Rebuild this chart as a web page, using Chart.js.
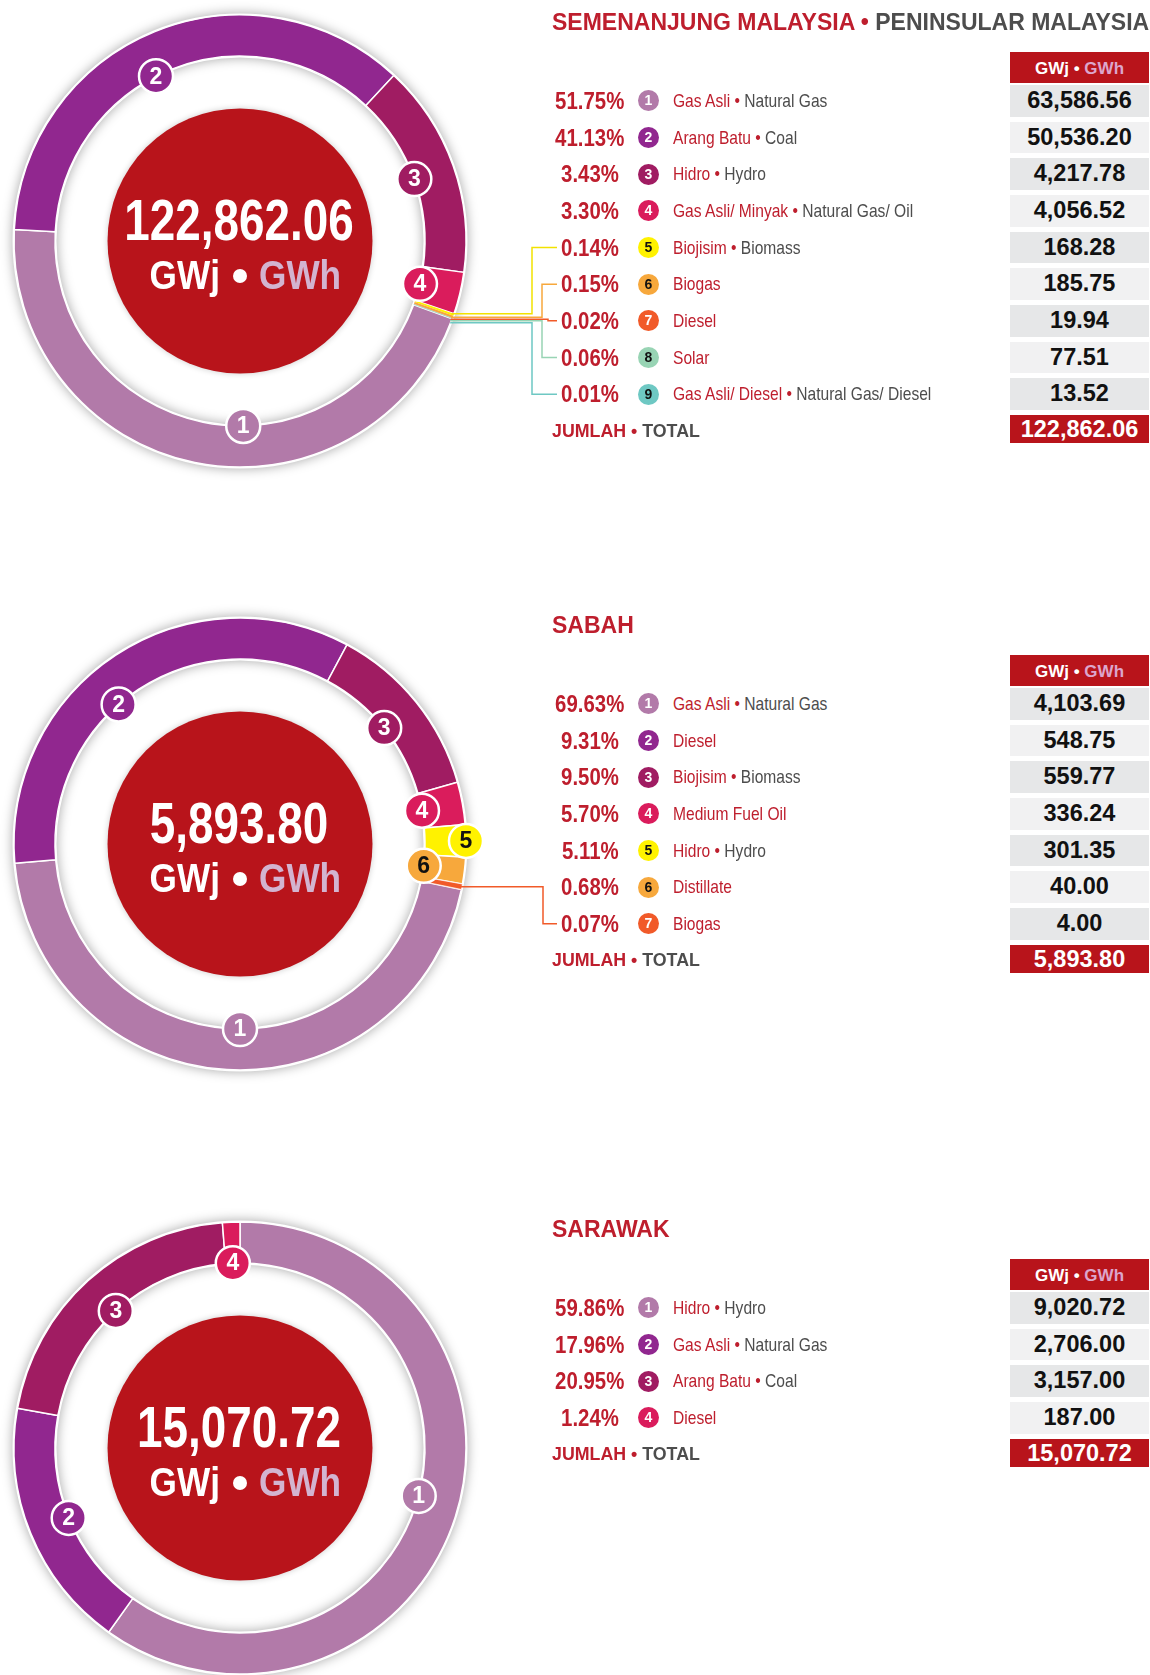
<!DOCTYPE html>
<html>
<head>
<meta charset="utf-8">
<title>Penjanaan Elektrik</title>
<script src="https://cdn.jsdelivr.net/npm/chart.js@4.4.1/dist/chart.umd.min.js"></script>
<style>
  body{margin:0;background:#fff}
  #page{position:relative;width:1150px;height:1675px;overflow:hidden;font-family:"Liberation Sans",Arial,sans-serif}
  .ring{position:absolute;left:0}
  .abs{position:absolute;white-space:nowrap}
  .title{left:552px;height:26px;line-height:26px;font-weight:bold;font-size:23px}
  .red{color:#be1e2d}
  .grey{color:#4d4d4d}
  .pct{left:545px;width:90px;text-align:center;font-weight:bold;font-size:24px;color:#be1e2d}
  .pct span{display:inline-block;transform:scaleX(.85)}
  .dot{left:638px;width:21px;height:21px;border-radius:50%;text-align:center;line-height:21px;font-weight:bold;font-size:14px;color:#fff}
  .label{left:673px;font-size:19px}
  .label .sq{display:inline-block;transform:scaleX(.82);transform-origin:0 50%}
  .val{left:1010px;width:139px;text-align:center;font-weight:bold;font-size:23.5px;color:#111}
  .head{left:1010px;width:139px;height:28px;padding-top:3px;line-height:28px;text-align:center;background:#b8141b;color:#fff;font-weight:bold;font-size:17px}
  .head span{color:#dca6cc}
  .sum{background:#b8141b;color:#fff}
  .total{left:552px;font-weight:bold;font-size:17.8px}
</style>
</head>
<body>
<div id="page"></div>
<script>
// Semenanjung Malaysia
const peninsularPct=[51.75,41.13,3.43,3.30,0.14,0.15,0.02,0.06,0.01]
const peninsularMalay=['Gas Asli','Arang Batu','Hidro','Gas Asli/ Minyak','Biojisim','Biogas','Diesel','Solar','Gas Asli/ Diesel']
const peninsularEnglish=['Natural Gas','Coal','Hydro','Natural Gas/ Oil','Biomass','','','','Natural Gas/ Diesel']
const peninsularGWh=[63586.56,50536.20,4217.78,4056.52,168.28,185.75,19.94,77.51,13.52]
// ring shares as drawn in the reference (the artwork is not to scale with the table)
const peninsularRing=[45.2,36.1,15.3,3.0,0.14,0.15,0.02,0.06,0.01]

// Sabah
const sabahPct=[69.63,9.31,9.50,5.70,5.11,0.68,0.07]
const sabahMalay=['Gas Asli','Diesel','Biojisim','Medium Fuel Oil','Hidro','Distillate','Biogas']
const sabahEnglish=['Natural Gas','','Biomass','','Hydro','','']
const sabahGWh=[4103.69,548.75,559.77,336.24,301.35,40.00,4.00]
const sabahRing=[45.4,34.2,12.75,3.03,2.3,1.9,0.39]

// Sarawak (ring drawn to scale)
const sarawakPct=[59.86,17.96,20.95,1.24]
const sarawakMalay=['Hidro','Gas Asli','Arang Batu','Diesel']
const sarawakEnglish=['Hydro','Natural Gas','Coal','']
const sarawakGWh=[9020.72,2706.00,3157.00,187.00]

const palette=['#b27aa9','#91278f','#a01c62','#da1c5c','#fff200','#f7a83c','#f15a29','#98d4b4','#6ec8c3']
const darkText=[4,5,7,8]
const ROW_H=31.7
const PITCH=36.67

const sections=[
  {rowTop:85,title:['SEMENANJUNG MALAYSIA','PENINSULAR MALAYSIA'],pct:peninsularPct,malay:peninsularMalay,english:peninsularEnglish,gwh:peninsularGWh,ring:peninsularRing,rotation:110.15,
   badges:[{i:0,at:179},{i:1,at:333},{i:2},{i:3}],
   leaders:[{i:4,turn:532,dy:-1,color:'#f2e200'},{i:5,turn:542,dy:0.5,color:'#f7a83c'},{i:6,turn:548,dy:1.5,color:'#f15a29'},{i:7,turn:542,dy:2.5,color:'#98d4b4'},{i:8,turn:532,dy:4,color:'#6ec8c3'}]},
  {rowTop:688,title:['SABAH'],pct:sabahPct,malay:sabahMalay,english:sabahEnglish,gwh:sabahGWh,ring:sabahRing,rotation:101.6,
   badges:[{i:0,at:180},{i:1,at:319},{i:2},{i:3},{i:4,outer:true},{i:5}],
   leaders:[{i:6,turn:543,dy:0,color:'#f15a29'}]},
  {rowTop:1292,title:['SARAWAK'],pct:sarawakPct,malay:sarawakMalay,english:sarawakEnglish,gwh:sarawakGWh,ring:sarawakGWh,rotation:0,
   badges:[{i:0,at:105},{i:1},{i:2},{i:3}],
   leaders:[]}
]

const page=document.getElementById('page')

function fmt(v){
  return v.toLocaleString('en-US',{minimumFractionDigits:2,maximumFractionDigits:2})
}

function addDiv(cls,top,height,html,style){
  const d=document.createElement('div')
  d.className='abs '+cls
  d.style.top=top+'px'
  if(height){
    d.style.height=height+'px'
    d.style.lineHeight=height+'px'
  }
  d.innerHTML=html
  if(style) Object.assign(d.style,style)
  page.appendChild(d)
  return d
}

function twoTone(red,grey){
  if(!grey) return '<span class="red">'+red+'</span>'
  return '<span class="red">'+red+' •</span> <span class="grey">'+grey+'</span>'
}

function buildTable(sec){
  const t=sec.rowTop
  addDiv('title',t-76.5,0,twoTone(sec.title[0],sec.title[1]))
  addDiv('head',t-33,0,'GWj • <span>GWh</span>')
  sec.pct.forEach((p,k)=>{
    const top=t+k*PITCH
    addDiv('pct',top,ROW_H,'<span>'+p.toFixed(2)+'%</span>')
    addDiv('dot',top+(ROW_H-21)/2,0,String(k+1),{background:palette[k],color:darkText.includes(k)?'#111':'#fff'})
    addDiv('label',top,ROW_H,'<span class="sq">'+twoTone(sec.malay[k],sec.english[k])+'</span>')
    addDiv('val',top,ROW_H,fmt(sec.gwh[k]),{background:k%2?'#f1f1f2':'#e6e7e8'})
  })
  const top=t+sec.pct.length*PITCH
  addDiv('total',top+1.5,28,twoTone('JUMLAH','TOTAL'))
  addDiv('val sum',top,28,fmt(sec.gwh.reduce((a,b)=>a+b,0)))
}

function squash(ctx,text,x,y,sx,align){
  ctx.save()
  ctx.translate(x,y)
  ctx.scale(sx,1)
  ctx.textAlign=align
  ctx.fillText(text,0,0)
  ctx.restore()
}

function ringDeco(sec){
  const total=fmt(sec.gwh.reduce((a,b)=>a+b,0))
  const firstRowY=84+ROW_H/2
  const lineEnd=557
  return {
    id:'ringDeco',
    beforeDatasetsDraw(chart){
      const ctx=chart.ctx
      const a=chart.getDatasetMeta(0).data[0]
      const {x,y,outerRadius,innerRadius}=a.getProps(['x','y','outerRadius','innerRadius'],true)
      ctx.save()
      ctx.shadowColor='rgba(0,0,0,0.35)'
      ctx.shadowBlur=12
      ctx.fillStyle='#fff'
      ctx.beginPath()
      ctx.arc(x,y,outerRadius+1.5,0,Math.PI*2)
      ctx.arc(x,y,innerRadius-1.5,0,Math.PI*2,true)
      ctx.fill()
      ctx.restore()
      ctx.save()
      ctx.shadowColor='rgba(0,0,0,0.2)'
      ctx.shadowBlur=6
      ctx.fillStyle='#b8141b'
      ctx.beginPath()
      ctx.arc(x,y,132.5,0,Math.PI*2)
      ctx.fill()
      ctx.restore()
    },
    afterDatasetsDraw(chart){
      const ctx=chart.ctx
      const meta=chart.getDatasetMeta(0)
      const cx=meta.data[0].x,cy=meta.data[0].y

      ctx.save()
      ctx.lineWidth=1.5
      sec.leaders.forEach(l=>{
        const arc=meta.data[l.i]
        const mid=(arc.startAngle+arc.endAngle)/2
        const sx=cx+Math.cos(mid)*arc.outerRadius
        const sy=cy+Math.sin(mid)*arc.outerRadius+l.dy
        const ry=firstRowY+l.i*PITCH
        ctx.strokeStyle=l.color
        ctx.beginPath()
        ctx.moveTo(sx-2,sy)
        ctx.lineTo(l.turn,sy)
        ctx.lineTo(l.turn,ry)
        ctx.lineTo(lineEnd,ry)
        ctx.stroke()
      })
      ctx.restore()

      ctx.save()
      sec.badges.forEach(b=>{
        const arc=meta.data[b.i]
        const ang=('at' in b)?(b.at-90)*Math.PI/180:(arc.startAngle+arc.endAngle)/2
        const r=b.outer?arc.outerRadius:arc.innerRadius
        const bx=cx+Math.cos(ang)*r,by=cy+Math.sin(ang)*r
        ctx.beginPath()
        ctx.arc(bx,by,17,0,Math.PI*2)
        ctx.fillStyle=palette[b.i]
        ctx.fill()
        ctx.lineWidth=2.5
        ctx.strokeStyle='#fff'
        ctx.stroke()
        ctx.fillStyle=darkText.includes(b.i)?'#111':'#fff'
        ctx.font='bold 23px "Liberation Sans", Arial, sans-serif'
        ctx.textAlign='center'
        ctx.textBaseline='middle'
        ctx.fillText(String(b.i+1),bx,by+1)
      })
      ctx.restore()

      ctx.save()
      ctx.fillStyle='#fff'
      ctx.textBaseline='alphabetic'
      ctx.font='bold 58px "Liberation Sans", Arial, sans-serif'
      squash(ctx,total,cx-1,cy-1,0.79,'center')
      ctx.font='bold 40px "Liberation Sans", Arial, sans-serif'
      squash(ctx,'GWj',cx-20,cy+48,0.88,'right')
      ctx.beginPath()
      ctx.arc(cx,cy+35,7,0,Math.PI*2)
      ctx.fill()
      ctx.fillStyle='#d3b4d0'
      squash(ctx,'GWh',cx+19,cy+48,0.88,'left')
      ctx.restore()
    }
  }
}

function buildRing(sec){
  const canvas=document.createElement('canvas')
  canvas.className='ring'
  canvas.width=570
  canvas.height=480
  canvas.style.top=(sec.rowTop-84)+'px'
  page.appendChild(canvas)
  new Chart(canvas,{
    type:'doughnut',
    data:{
      labels:sec.malay,
      datasets:[{
        data:sec.ring,
        backgroundColor:palette.slice(0,sec.ring.length),
        borderColor:'#fff',
        borderWidth:sec.ring.map(v=>v<0.3?0:(v<1?0.75:1.5)),
        hoverOffset:0
      }]
    },
    options:{
      responsive:false,
      animation:false,
      events:[],
      rotation:sec.rotation,
      radius:226,
      cutout:'81.86%',
      layout:{padding:{right:90}},
      plugins:{
        legend:{display:false},
        tooltip:{enabled:false}
      }
    },
    plugins:[ringDeco(sec)]
  })
}

sections.forEach(sec=>{
  buildRing(sec)
  buildTable(sec)
})
</script>
</body>
</html>
